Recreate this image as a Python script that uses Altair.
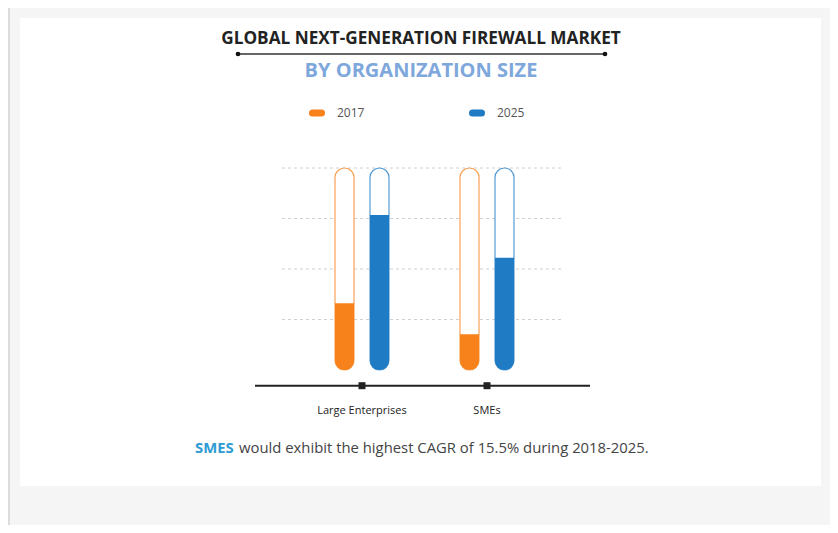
import altair as alt
import pandas as pd

# ---- data ----
categories = ["Large Enterprises", "SMEs"]
years = ["2017", "2025"]
values_2017 = [33.0, 17.7]
values_2025 = [76.7, 55.6]
grid_values = [25, 50, 75, 100]
track_max = 100

title_text = "GLOBAL NEXT-GENERATION FIREWALL MARKET"
subtitle_text = "BY ORGANIZATION SIZE"
note_highlight = "SMES"
note_rest = "would exhibit the highest CAGR of 15.5% during 2018-2025."

ORANGE = "#F7821B"
BLUE = "#1E7BC4"

rows = []
for i, c in enumerate(categories):
    rows.append({"cat": c, "year": years[0], "value": values_2017[i], "max": track_max, "zero": 0})
    rows.append({"cat": c, "year": years[1], "value": values_2025[i], "max": track_max, "zero": 0})
df = pd.DataFrame(rows)
grid_df = pd.DataFrame({"g": grid_values})
cat_df = pd.DataFrame({"cat": categories})
one = alt.Data(values=[{}])

W, H = 822, 517
x_scale = alt.Scale(domain=categories, range=[291.5, 541.5], paddingInner=0, paddingOuter=0)
xo_scale = alt.Scale(domain=years, range=[18, 107], paddingInner=0.457, paddingOuter=0.5)
y_scale = alt.Scale(domain=[0, 100], range=[362, 160])
color_scale = alt.Scale(domain=years, range=[ORANGE, BLUE])

X = alt.X("cat:N", scale=x_scale, axis=None)
XO = alt.XOffset("year:N", scale=xo_scale)

FONT = "Open Sans"

card = alt.Chart(one).mark_rect(color="white").encode(
    x=alt.value(12), x2=alt.value(813), y=alt.value(10), y2=alt.value(478))
left_border = alt.Chart(one).mark_rule(color="#dcdcdc", strokeWidth=2).encode(
    x=alt.value(1), y=alt.value(0), y2=alt.value(H))

title = alt.Chart(one).mark_text(text=title_text, font=FONT, fontWeight="bold",
                                  fontSize=17.2, color="#222").encode(
    x=alt.value(413), y=alt.value(31))
title_line = alt.Chart(one).mark_rule(color="#333", strokeWidth=1.5).encode(
    x=alt.value(230), x2=alt.value(597), y=alt.value(46))
dot_l = alt.Chart(one).mark_circle(size=22, color="#111", opacity=1).encode(
    x=alt.value(230), y=alt.value(46))
dot_r = alt.Chart(one).mark_circle(size=22, color="#111", opacity=1).encode(
    x=alt.value(597), y=alt.value(46))
subtitle = alt.Chart(one).mark_text(text=subtitle_text, font=FONT, fontWeight="bold",
                                     fontSize=20, color="#7EA7DC").encode(
    x=alt.value(413), y=alt.value(62.5))

# legend
leg_layers = []
pill_x = [(304.5, 313.5), (464.5, 473.5)]
text_x = [329, 489]
for i, yr in enumerate(years):
    col = [ORANGE, BLUE][i]
    leg_layers.append(alt.Chart(one).mark_rule(strokeWidth=7, strokeCap="round", color=col).encode(
        x=alt.value(pill_x[i][0]), x2=alt.value(pill_x[i][1]), y=alt.value(105)))
    leg_layers.append(alt.Chart(one).mark_text(text=yr, font=FONT, fontSize=12, color="#555",
                                               align="left").encode(
        x=alt.value(text_x[i]), y=alt.value(105)))

grid = alt.Chart(grid_df).mark_rule(color="#d0d0d0", strokeDash=[3, 3], strokeWidth=1).encode(
    y=alt.Y("g:Q", scale=y_scale, axis=None), x=alt.value(274), x2=alt.value(555))

tracks = alt.Chart(df).mark_bar(cornerRadius=9.5, fill="white", strokeWidth=1.2,
                                strokeOpacity=0.75).encode(
    x=X, xOffset=XO,
    y=alt.Y("max:Q", scale=y_scale, axis=None, stack=None),
    y2="zero:Q",
    stroke=alt.Color("year:N", scale=color_scale, legend=None))

fills = alt.Chart(df).mark_bar(cornerRadiusBottomLeft=9.5, cornerRadiusBottomRight=9.5).encode(
    x=X, xOffset=XO,
    y=alt.Y("value:Q", scale=y_scale, axis=None, stack=None),
    y2="zero:Q",
    color=alt.Color("year:N", scale=color_scale, legend=None))

axis_line = alt.Chart(one).mark_rule(color="#222", strokeWidth=2).encode(
    x=alt.value(247), x2=alt.value(582), y=alt.value(377.7))
ticks = alt.Chart(cat_df).mark_square(size=49, color="#222", opacity=1).encode(
    x=X, y=alt.value(377.7))
cat_labels = alt.Chart(cat_df).mark_text(font=FONT, fontSize=11, color="#222").encode(
    x=X, y=alt.value(403), text="cat:N")

note1 = alt.Chart(one).mark_text(text=note_highlight, font=FONT, fontWeight="bold",
                                  fontSize=14.85, color="#2E9BD3", align="left").encode(
    x=alt.value(187), y=alt.value(441))
note2 = alt.Chart(one).mark_text(text=note_rest, font=FONT, fontSize=14.85, color="#444",
                                  align="left").encode(
    x=alt.value(231), y=alt.value(441))

chart = alt.layer(
    card, left_border, title, title_line, dot_l, dot_r, subtitle, *leg_layers,
    grid, tracks, fills, axis_line, ticks, cat_labels, note1, note2
).properties(
    width=W, height=H, padding=0,
    autosize=alt.AutoSizeParams(type="none"),
    background="#F5F5F5"
).configure_view(stroke=None)

chart.save("out.html", embed_options={"renderer": "svg", "actions": False})
